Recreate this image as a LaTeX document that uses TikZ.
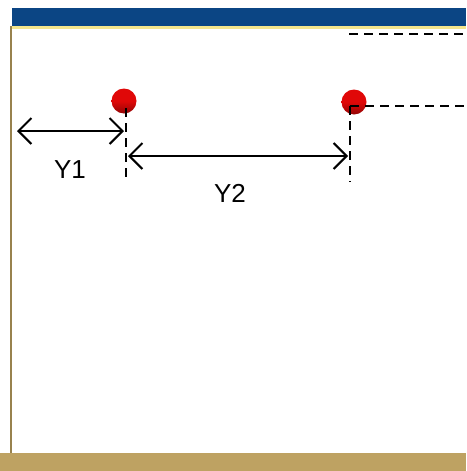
\documentclass[tikz,border=0pt]{standalone}
\usepackage{fontspec}
\setmainfont{Liberation Sans}
\usetikzlibrary{arrows.meta,positioning,calc}
\definecolor{barblue}{HTML}{0B4584}
\definecolor{baryellow}{HTML}{F4E58C}
\definecolor{framegold}{HTML}{BEA262}
\definecolor{dotred}{HTML}{E00808}
\tikzset{
    span/.style={{Straight Barb[length=13pt, width=26pt]}-{Straight Barb[length=13pt, width=26pt]}, line width=2pt},
    guide/.style={dashed, dash pattern=on 9pt off 6pt, line width=1.8pt},
    dot/.style={circle, inner sep=0pt, minimum size=25pt, top color=dotred, bottom color=dotred!65!black, middle color=dotred},
    lbl/.style={font=\fontsize{26}{28}\selectfont}
}

\begin{document}
\begin{tikzpicture}[x=1pt, y=-1pt]
                    \useasboundingbox[fill=white] (0,0) rectangle (466,471);
                    % slide frame
                    \fill[barblue] (12,8) rectangle (466,26);
                    \fill[baryellow] (12,26) rectangle (466,29);
                    \fill[framegold] (0,453) rectangle (466,471);
                    \draw[framegold!80!black, line width=1.5pt] (11,26) -- (11,453);

                    \node[dot] (p1) at (124,101) {};
                    \node[dot] (p2) at (354,102) {};

                    \coordinate (t1) at (349,34);
                    \coordinate (t2) at (466,34);
                    \coordinate (c2) at (350,106);
                    \coordinate (r2) at (466,106);
                    \coordinate (c1) at (126,108);
                    \coordinate (b1) at (126,182);
                    \coordinate (b2) at (350,182);
                    \coordinate (w) at (17,131);
                    \coordinate (a1) at (124,131);
                    \coordinate (a2) at (128,156);
                    \coordinate (e2) at (348,156);

                    \draw[guide] (t1) -- (t2);
                    \draw[guide] (c2) -- (r2);
                    \draw[guide] (c2) -- (b2);
                    \draw[guide] (c1) -- (b1);

                    \draw[span] (w) -- (a1);
                    \draw[span] (a2) -- (e2);

                    \node[lbl] (y1) at (70,170) {Y1};
                    \node[lbl] (y2) at (230,193) {Y2};
                \end{tikzpicture}
\end{document}
